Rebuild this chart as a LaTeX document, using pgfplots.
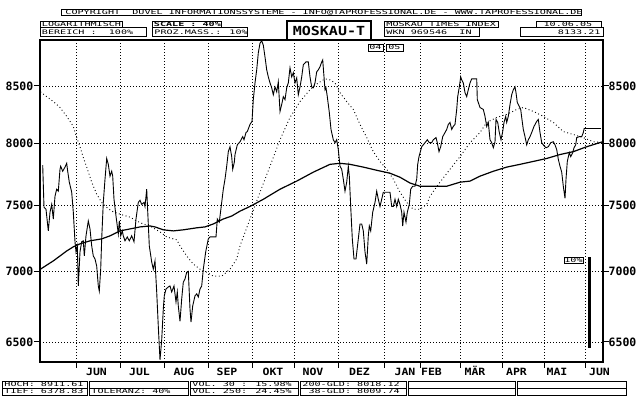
\documentclass[border=0pt]{standalone}
\usepackage{fontspec}
\usepackage{graphicx}
\usepackage{pgfplots}
\pgfplotsset{compat=1.18}
\setmainfont{DejaVu Sans Mono}
\newcommand\hd[1]{\scalebox{1.63}[1]{\fontsize{6.2bp}{6.2bp}\selectfont #1}}
\newcommand\hdb[1]{\scalebox{1.63}[1]{\fontsize{6.2bp}{6.2bp}\selectfont\bfseries #1}}
\newcommand\tfont{\fontsize{11.5bp}{12bp}\selectfont\bfseries}
\newcommand\mfont{\fontsize{10bp}{10bp}\selectfont\bfseries}
\begin{document}
\begin{tikzpicture}
\useasboundingbox (0,0) rectangle (640bp,400bp);
\begin{axis}[
  at={(40bp,38bp)}, anchor=south west, scale only axis,
  width=563bp, height=322bp,
  xmin=40, xmax=603, ymode=log, ymin=6366, ymax=8920,
  axis line style={line width=2.4bp},
  xtick={76,120.3,164.5,208.5,252.5,294.5,338.3,384.3,420.7,460.7,502.7,544.3,585},
  xticklabels={},
  xtick pos=left,
  ytick={6500,7000,7500,8000,8500},
  yticklabels={6500,7000,7500,8000,8500},
  ytick pos=both, yticklabel pos=left,
  tick align=outside, major tick length=6bp,
  tick style={black, line width=1bp},
  grid=major,
  major grid style={black, line width=0.8bp, dash pattern=on 0.8bp off 2.2bp},
  yticklabel style={font=\tfont, inner sep=0.5bp},
  extra x ticks={96.5,139.5,184,227,273,313,359.5,405,431.5,475,516.5,557,599.5},
  extra x tick labels={JUN,JUL,AUG,SEP,OKT,NOV,DEZ,JAN,FEB,MÄR,APR,MAI,JUN},
  extra x tick style={grid=none, major tick length=0pt,
    xticklabel style={font=\mfont, anchor=base, yshift=-14bp, xscale=1.15}},
]
% Kurs
\addplot[black, line width=0.9bp] coordinates {
(42.7,7823)(44,7485)(46,7470)(48.3,7303)(50,7447)(51.7,7508)(53.3,7394)(55,7573)(56.7,7629)(58.3,7613)(60,7790)(60.7,7815)(62.7,7774)(65,7807)(66.7,7839)(67.7,7774)(69.3,7686)(71.7,7605)(73.3,7447)(75,7220)(76,7144)(77.3,7189)(78.3,6893)(80,7144)(81.7,7220)(83.3,7227)(84.3,7113)(86,7265)(88.3,7379)(90,7318)(91.7,7189)(93.3,7113)(95,7091)(96.7,7038)(98.3,6893)(99.3,6857)(100.7,7015)(101.7,7242)(103.3,7524)(105,7710)(106.7,7879)(108.3,7831)(110,7734)(111.7,7774)(112.7,7734)(114,7549)(116,7417)(118.3,7280)(119.3,7379)(120.7,7265)(122.3,7303)(123.3,7265)(125,7227)(127.3,7257)(129.3,7227)(131.7,7265)(134,7220)(136,7394)(138.3,7524)(140,7541)(141.7,7508)(144,7524)(145,7492)(146.7,7629)(147.3,7524)(149.3,7189)(151.7,7068)(153.3,7015)(155,7076)(156.7,6850)(158.3,6607)(160,6379)(161.7,6514)(163.3,6729)(164.3,6822)(166,6871)(168.3,6886)(170,6893)(171.7,6850)(174,6893)(176,6779)(177.3,6850)(178.3,6750)(180,6643)(181.7,6800)(183.3,6921)(185,6943)(186.7,6993)(188.3,7000)(190,6729)(191,6636)(192.7,6750)(195,6822)(196.7,6836)(198.3,6814)(200,6871)(201.7,6893)(203.3,7015)(205.7,7144)(208.3,7242)(210,7257)(213.3,7257)(216,7257)(217.3,7394)(219.3,7371)(221.7,7524)(223.3,7629)(225,7710)(226.7,7815)(228.3,7936)(230,7976)(231.7,7895)(232.7,7790)(234.3,7847)(235,7911)(237.3,7992)(240,8017)(242.7,8060)(244,8034)(246,8095)(247.3,8103)(250,8164)(252,8190)(253.3,8379)(255,8527)(256.7,8645)(258.3,8799)(260,8889)(261.7,8912)(263.3,8871)(265,8762)(266.7,8645)(268.3,8581)(270,8527)(271.7,8483)(273.3,8422)(275,8491)(276.7,8448)(278.3,8536)(280,8276)(281.7,8336)(283.3,8405)(285,8379)(286.7,8483)(288.3,8527)(290,8663)(291.7,8581)(293.3,8618)(295,8527)(296.7,8572)(298.3,8422)(300,8491)(301.7,8581)(303.3,8690)(306,8717)(308.3,8717)(310,8581)(311.7,8491)(313.3,8483)(315,8527)(316.7,8627)(318.3,8645)(320,8672)(321.7,8717)(322.7,8735)(324,8581)(325,8466)(326,8483)(327.3,8405)(329.3,8267)(331,8121)(333.3,8034)(335,8009)(336.7,8034)(338.3,7952)(340,7815)(341.7,7790)(343.3,7710)(345,7613)(346.7,7686)(348.3,7815)(349.3,7734)(350.7,7492)(352.3,7242)(354,7091)(356,7091)(358.3,7242)(360,7356)(361.7,7356)(363.3,7303)(365,7144)(366.7,7053)(368.3,7265)(369.3,7341)(370.7,7303)(372.7,7447)(375,7524)(376.7,7613)(378.3,7549)(380,7492)(381.7,7549)(383.3,7605)(386.7,7605)(390,7605)(391.7,7492)(393.3,7492)(395,7549)(396.7,7492)(398.3,7549)(400,7508)(401.7,7447)(402.7,7341)(404,7447)(406,7371)(407.3,7447)(409.3,7508)(410.7,7629)(412.7,7653)(415,7653)(416.7,7710)(417.7,7831)(419,7895)(421.7,7976)(425,8009)(427.3,8034)(429.3,8009)(431.7,8009)(433.3,8034)(436,8052)(437.3,8009)(439,7936)(440.7,7976)(442.7,8060)(445,8095)(446.7,8121)(448.3,8164)(450,8181)(451.7,8121)(453.3,8147)(455,8164)(456.7,8293)(457.7,8405)(459.3,8491)(460.7,8581)(461.7,8554)(463.3,8527)(465,8440)(466.7,8405)(468.3,8466)(470,8527)(471.7,8563)(475,8563)(476.7,8563)(477.3,8379)(480,8310)(483.3,8293)(485,8233)(486.7,8147)(488.3,8181)(490,8034)(491.7,8009)(493.3,7968)(495,8017)(496,8207)(497.7,8181)(499.3,8095)(501,8034)(502.7,8103)(504,8181)(505.7,8233)(506.7,8181)(508.3,8233)(510,8336)(511.7,8422)(513.3,8466)(515,8491)(516,8440)(517.3,8353)(519.3,8319)(520.7,8293)(521.7,8224)(523.3,8121)(525,8060)(526.7,7992)(528.3,8034)(530,8060)(531.7,8095)(534,8147)(536.7,8190)(538.3,8207)(540,8095)(541.7,8009)(544,7984)(546,7968)(548.3,7976)(550.7,8009)(553.3,8017)(555,7992)(556.7,7952)(558.3,7871)(560,7815)(561.7,7766)(563.3,7653)(565,7556)(566,7710)(567.3,7855)(569.3,7927)(570.7,7895)(572.7,7927)(574,7968)(575.7,7992)(576.7,8052)(579.3,8060)(581.7,8060)(583.3,8095)(584.3,8133)
};
% 200-GLD
\addplot[black, line width=1.2bp] coordinates {
(40.5,7015)(46.7,7045)(53.3,7076)(60,7113)(66.7,7151)(73.3,7182)(80,7204)(90,7227)(101.7,7242)(110,7265)(120,7303)(130,7318)(140,7333)(150,7341)(155,7333)(163.3,7311)(173.3,7303)(183.3,7311)(196.7,7326)(205,7333)(213.3,7356)(223.3,7394)(231.7,7417)(240,7455)(250,7492)(263.3,7549)(280,7629)(296.7,7694)(313.3,7766)(330,7831)(340,7839)(350,7831)(363.3,7807)(376.7,7782)(390,7758)(400,7726)(410,7678)(420,7653)(430,7653)(446.7,7653)(460,7686)(470,7694)(480,7734)(493.3,7774)(506.7,7807)(520,7831)(533.3,7855)(546.7,7879)(560,7911)(573.3,7936)(586.7,7976)(603,8018)
};
% 38-GLD
\addplot[black, line width=0.9bp, dash pattern=on 0.9bp off 2.6bp] coordinates {
(40.5,8448)(46.7,8405)(53.3,8362)(60,8310)(66.7,8233)(73.3,8147)(76.7,8052)(80,7976)(83.3,7887)(86.7,7807)(91.7,7686)(96.7,7589)(101.7,7524)(106.7,7485)(111.7,7455)(120,7432)(130,7409)(136.7,7379)(143.3,7356)(150,7341)(160,7295)(166.7,7257)(173.3,7242)(176.7,7235)(180,7189)(186.7,7113)(193.3,7053)(200,7015)(206.7,6993)(213.3,6964)(221.7,6964)(230,7015)(236.7,7091)(240,7189)(250,7394)(260,7605)(270,7815)(280,8034)(290,8224)(300,8362)(310,8466)(318.3,8527)(325,8563)(330,8554)(335,8527)(340,8440)(346.7,8362)(353.3,8293)(360,8164)(366.7,8052)(373.3,7936)(380,7855)(386.7,7790)(393.3,7710)(400,7605)(406.7,7524)(413.3,7470)(420,7470)(426.7,7508)(430,7573)(440,7686)(450,7790)(460,7895)(470,8009)(480,8095)(486.7,8181)(496.7,8224)(506.7,8250)(516.7,8293)(523.3,8310)(533.3,8276)(543.3,8233)(553.3,8181)(563.3,8103)(573.3,8078)(583.3,8052)(593.3,8017)(602,8010)
};
% letzter Kurs
\addplot[black, line width=0.9bp] coordinates {(584,8133)(601,8133)};
% 10%-Massstab
\addplot[black, line width=3bp] coordinates {(589,6460)(589,7106)};
\end{axis}
\begin{axis}[
  at={(40bp,38bp)}, anchor=south west, scale only axis,
  width=563bp, height=322bp,
  xmin=40, xmax=603, ymode=log, ymin=6366, ymax=8920,
  hide x axis, axis y line*=right, y axis line style={draw=none},
  ytick={6500,7000,7500,8000,8500},
  yticklabels={6500,7000,7500,8000,8500},
  tick align=outside, major tick length=5bp, ytick style={draw=none},
  yticklabel style={font=\tfont, inner sep=0.5bp},
]
\addplot[draw=none] coordinates {(100,7000)};
\end{axis}
\begin{scope}[yshift=400bp, x=1bp, y=-1bp, every node/.style={inner sep=0pt}, line width=0.9bp]
% Kopfzeile
\draw (61,9) rectangle (581,15.5);
\node[anchor=base west] at (65,14.4) {\hd{COPYRIGHT~~DUVEL INFORMATIONSSYSTEME - INFO@TAPROFESSIONAL.DE - WWW.TAPROFESSIONAL.DE}};
\draw (40,21) rectangle (122,27.7);
\node[anchor=base west] at (41.5,26.4) {\hd{LOGARITHMISCH}};
\draw (40,27.7) rectangle (146,36);
\node[anchor=base west] at (41.5,34.6) {\hd{BEREICH :~~100\%}};
\draw (152,21) rectangle (221,27.7);
\node[anchor=base west] at (153.5,26.4) {\hdb{SCALE : 40\%}};
\draw (152,27.7) rectangle (247,36);
\node[anchor=base west] at (154,34.6) {\hd{PROZ.MASS.: 10\%}};
\draw[line width=1.8bp, fill=white] (287,21) rectangle (371,40);
\node at (329,31) {\scalebox{1.2}[1]{\fontsize{12.5bp}{12.5bp}\selectfont\bfseries MOSKAU-T}};
\draw (384,21) rectangle (498,27.7);
\node[anchor=base west] at (386,26.4) {\hd{MOSKAU TIMES INDEX}};
\draw (384,27.7) rectangle (479,36);
\node[anchor=base west] at (386,34.6) {\hd{WKN 969546~~IN}};
\draw (536,21) rectangle (601,27.7);
\node[anchor=base] at (568,26.4) {\hd{10.06.05}};
\draw (520,27.7) rectangle (603,36);
\node[anchor=base east] at (601,34.6) {\hd{8133.21}};
% Jahreswechsel
\draw[fill=white] (368,44) rectangle (383,51);
\node[anchor=base] at (375.5,50) {\hd{04}};
\draw[fill=white] (386,44) rectangle (403,51);
\node[anchor=base] at (394.5,50) {\hd{05}};
% 10% Kasten
\draw[fill=white] (564,257) rectangle (583,263.5);
\node[anchor=base] at (573.5,262.5) {\hd{10\%}};
% Fusszeile
\foreach \a/\b in {2/87,89/188,190/298,300/406,408/515,517/626}{
  \draw (\a,381) rectangle (\b,388);
  \draw (\a,388) rectangle (\b,395);
}
\node[anchor=base west] at (4,386.6) {\hd{HOCH: 8911.61}};
\node[anchor=base west] at (4,393.8) {\hd{TIEF: 6378.83}};
\node[anchor=base west] at (91,393.8) {\hd{TOLERANZ: 40\%}};
\node[anchor=base west] at (192,386.6) {\hd{VOL. 30 : 15.98\%}};
\node[anchor=base west] at (192,393.8) {\hd{VOL. 250: 24.45\%}};
\node[anchor=base west] at (302,386.6) {\hd{200-GLD: 8018.12}};
\node[anchor=base west] at (302,393.8) {\hd{~38-GLD: 8009.74}};
\end{scope}
\end{tikzpicture}
\end{document}
